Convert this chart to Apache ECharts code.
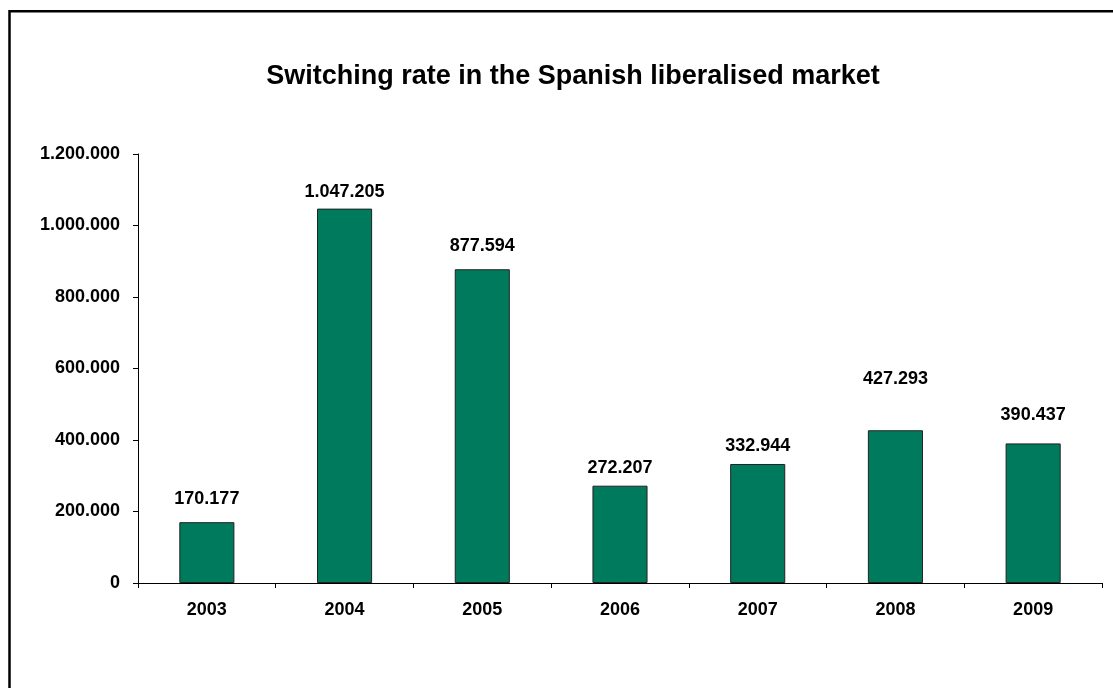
<!DOCTYPE html>
<html>
<head>
<meta charset="utf-8">
<script src="https://cdn.jsdelivr.net/npm/echarts@6/dist/echarts.min.js"></script>
<style>
  html, body { margin: 0; padding: 0; background: #fff; }
  #chart { width: 1113px; height: 688px; }
</style>
</head>
<body>
<div id="chart"></div>
<script>
// datos
const years = ['2003', '2004', '2005', '2006', '2007', '2008', '2009']
const switches = [170177, 1047205, 877594, 272207, 332944, 427293, 390437]
const yTicks = [0, 200000, 400000, 600000, 800000, 1000000, 1200000]

// separacion etiqueta-barra (como en el original de Excel)
const labelGap = [14, 8, 14, 9, 9, 42, 19]

const font = '"Liberation Sans", Arial, sans-serif'

// 1047205 -> 1.047.205
const fmt = (v) => String(v).replace(/\B(?=(\d{3})+(?!\d))/g, '.')

const chart = echarts.init(document.getElementById('chart'))

let barData = switches.map((v, i) => ({
  value: v,
  label: { distance: labelGap[i] }
}))

let option = {
  animation: false,
  backgroundColor: '#fff',
  textStyle: { fontFamily: font },
  title: {
    text: 'Switching rate in the Spanish liberalised market',
    left: 568,
    top: 58,
    textAlign: 'center',
    textStyle: { fontFamily: font, fontSize: 27, fontWeight: 'bold', color: '#000' }
  },
  graphic: [{
    type: 'rect',
    shape: { x: 9.5, y: 11.3, width: 1300, height: 900 },
    style: { fill: null, stroke: '#000', lineWidth: 2.5 },
    silent: true
  }],
  grid: { left: 138, right: 11, top: 154, bottom: 105 },
  xAxis: {
    type: 'category',
    data: years,
    axisLine: { lineStyle: { color: '#000', width: 1 } },
    axisTick: { show: true, length: 5, lineStyle: { color: '#000' } },
    axisLabel: { margin: 18, fontSize: 18, fontWeight: 'bold', color: '#000', fontFamily: font }
  },
  yAxis: {
    type: 'value',
    min: yTicks[0],
    max: yTicks[yTicks.length - 1],
    interval: 200000,
    axisLine: { show: true, lineStyle: { color: '#000', width: 1 } },
    axisTick: { show: true, length: 5, lineStyle: { color: '#000' } },
    splitLine: { show: false },
    axisLabel: {
      margin: 18, fontSize: 18, fontWeight: 'bold', color: '#000', fontFamily: font,
      formatter: (v) => fmt(v)
    }
  },
  series: [{
    type: 'bar',
    data: barData,
    barWidth: '40%',
    itemStyle: { color: '#007A5C', borderColor: '#222', borderWidth: 1 },
    label: {
      show: true,
      position: 'top',
      fontSize: 18,
      fontWeight: 'bold',
      color: '#000',
      fontFamily: font,
      formatter: (p) => fmt(p.value)
    }
  }]
}

chart.setOption(option)
</script>
</body>
</html>
